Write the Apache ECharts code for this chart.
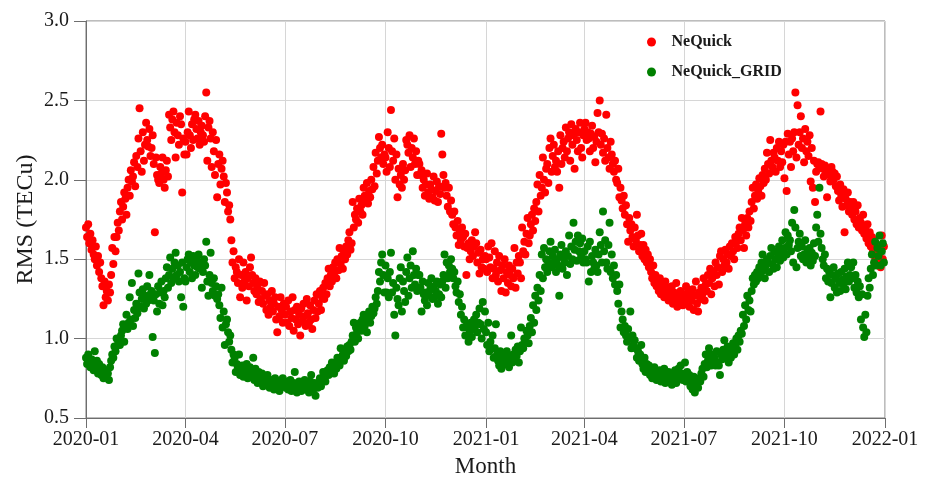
<!DOCTYPE html>
<html>
<head>
<meta charset="utf-8">
<title>RMS (TECu)</title>
<script src="https://cdn.jsdelivr.net/npm/echarts@6/dist/echarts.min.js"></script>
<style>
  html, body { margin: 0; padding: 0; background: #ffffff; }
  #chart { width: 936px; height: 478px; }
</style>
</head>
<body>
<div id="chart"></div>
<script>
// Daily RMS values (TECu); one inner list per month, day 1 onwards.
const seriesNames = ['NeQuick', 'NeQuick_GRID'];
const tickMonths = ['2020-01', '2020-04', '2020-07', '2020-10', '2021-01', '2021-04', '2021-07', '2021-10', '2022-01'];
const yMin = 0.5, yMax = 3.0, yStep = 0.5;

const neQuick2020 = [
  [1.70,1.64,1.72,1.60,1.66,1.56,1.62,1.53,1.50,1.58,1.46,1.52,1.42,1.48,1.38,1.33,1.21,1.36,1.26,1.30,1.24,1.34,1.29,1.40,1.57,1.47,1.64,1.55,1.64,1.73,1.68],
  [1.80,1.86,1.75,1.83,1.92,1.88,1.78,1.95,2.00,1.90,2.06,1.99,2.02,2.11,1.96,2.15,2.08,2.26,2.45,2.18,2.05,2.30,2.12,2.22,2.36,2.25,2.21,2.32,2.15],
  [2.20,2.28,2.10,1.67,2.14,2.03,2.00,1.98,2.08,2.04,2.14,2.00,1.95,2.06,2.12,2.02,2.41,2.33,2.25,2.38,2.43,2.30,2.14,2.36,2.28,2.22,2.40,2.35,1.92,2.26,2.16],
  [2.24,2.16,2.30,2.43,2.28,2.20,2.35,2.25,2.38,2.41,2.32,2.26,2.37,2.22,2.30,2.34,2.28,2.24,2.40,2.55,2.12,2.33,2.37,2.26,2.08,2.30,2.18,2.03,2.25,1.89],
  [2.10,2.16,1.97,2.07,2.12,2.02,1.86,1.98,1.92,1.80,1.84,1.75,1.62,1.48,1.55,1.38,1.45,1.42,1.35,1.50,1.26,1.40,1.32,1.48,1.36,1.42,1.24,1.38,1.33,1.45,1.51],
  [1.40,1.35,1.30,1.38,1.28,1.32,1.23,1.36,1.25,1.30,1.22,1.35,1.27,1.18,1.28,1.15,1.24,1.20,1.30,1.17,1.22,1.26,1.12,1.04,1.20,1.14,1.26,1.18,1.10,1.22],
  [1.15,1.20,1.10,1.24,1.08,1.17,1.13,1.26,1.05,1.18,1.12,1.20,1.09,1.15,1.02,1.19,1.11,1.22,1.14,1.08,1.25,1.16,1.10,1.21,1.12,1.06,1.18,1.24,1.13,1.28,1.17],
  [1.22,1.30,1.18,1.26,1.32,1.25,1.35,1.28,1.38,1.44,1.33,1.40,1.36,1.45,1.41,1.48,1.38,1.50,1.43,1.57,1.47,1.52,1.44,1.55,1.50,1.58,1.53,1.62,1.67,1.56,1.60],
  [1.86,1.70,1.78,1.75,1.82,1.73,1.88,1.80,1.84,1.78,1.95,1.90,1.86,1.98,1.85,1.93,1.89,2.00,1.94,2.08,1.96,2.17,2.04,2.12,2.27,2.20,2.14,2.22,2.10,2.16],
  [2.14,2.05,2.30,2.20,2.08,2.44,2.18,2.12,2.26,2.00,2.16,1.89,2.07,1.97,2.03,1.95,2.10,2.00,2.06,2.25,2.22,2.17,2.28,2.08,2.20,2.14,2.26,2.10,2.18,2.03,2.12],
  [2.10,2.03,2.06,1.95,2.00,1.90,1.97,2.04,1.92,1.88,1.97,1.94,1.89,2.02,1.87,1.93,1.99,1.86,1.96,1.91,2.29,2.16,2.03,1.95,1.98,1.90,1.83,1.95,1.80,1.87],
  [1.78,1.72,1.80,1.70,1.65,1.74,1.59,1.68,1.62,1.70,1.64,1.58,1.66,1.40,1.57,1.60,1.50,1.55,1.62,1.52,1.58,1.67,1.60,1.48,1.54,1.41,1.56,1.45,1.50,1.44,1.52]
];

const neQuick2021 = [
  [1.50,1.42,1.58,1.51,1.45,1.60,1.38,1.44,1.55,1.40,1.48,1.36,1.52,1.43,1.30,1.46,1.38,1.50,1.29,1.42,1.35,1.46,1.40,1.33,1.44,1.38,1.57,1.32,1.48,1.41,1.52],
  [1.48,1.38,1.70,1.55,1.61,1.53,1.66,1.76,1.60,1.65,1.72,1.78,1.68,1.82,1.74,1.86,1.97,1.80,2.03,1.90,1.95,2.14,2.00,1.92,2.07,2.10,1.98,2.20],
  [2.26,2.05,2.15,2.22,2.08,2.12,2.05,2.18,1.95,2.28,2.10,2.20,2.24,2.14,2.33,2.18,2.26,2.30,2.12,2.35,2.22,2.28,2.07,2.32,2.25,2.18,2.30,2.36,2.20,2.14,2.28],
  [2.32,2.36,2.25,2.30,2.26,2.18,2.29,2.34,2.20,2.27,2.11,2.24,2.42,2.30,2.50,2.22,2.29,2.17,2.26,2.12,2.41,2.20,2.14,2.07,2.24,2.16,2.10,2.05,2.12,2.00],
  [1.98,2.07,1.89,1.95,1.87,1.82,1.90,1.78,1.84,1.72,1.61,1.76,1.68,1.72,1.64,1.58,1.70,1.62,1.78,1.65,1.55,1.59,1.66,1.52,1.59,1.50,1.56,1.48,1.53,1.45,1.50],
  [1.42,1.38,1.46,1.35,1.40,1.33,1.36,1.30,1.38,1.28,1.34,1.31,1.26,1.36,1.29,1.32,1.24,1.30,1.27,1.33,1.22,1.29,1.25,1.35,1.20,1.27,1.23,1.30,1.26,1.21],
  [1.28,1.22,1.33,1.26,1.30,1.20,1.27,1.24,1.31,1.18,1.27,1.36,1.22,1.17,1.29,1.25,1.32,1.28,1.38,1.24,1.34,1.30,1.40,1.35,1.44,1.28,1.38,1.42,1.33,1.48,1.40],
  [1.45,1.34,1.52,1.55,1.42,1.50,1.46,1.56,1.48,1.53,1.44,1.58,1.52,1.60,1.55,1.50,1.64,1.61,1.57,1.66,1.70,1.62,1.76,1.68,1.57,1.72,1.65,1.76,1.70,1.80,1.74],
  [1.86,1.95,1.82,1.90,1.97,1.88,1.93,2.01,1.96,1.90,2.03,1.98,2.07,2.00,2.17,2.10,2.04,2.25,2.12,2.08,2.17,2.14,2.05,2.20,2.12,2.24,2.08,2.18,2.11,2.22],
  [2.01,2.24,1.93,2.29,2.16,2.24,2.08,2.26,2.18,2.30,2.55,2.14,2.47,2.22,2.30,2.40,2.20,2.26,2.11,2.32,2.18,2.24,2.15,2.28,1.99,2.20,1.95,2.12,1.86,2.05,2.10],
  [2.11,2.08,2.43,2.10,2.07,2.02,2.09,2.05,1.89,2.06,2.03,1.99,2.08,2.05,2.00,2.04,1.96,2.02,1.93,1.87,1.97,1.90,1.83,1.94,1.67,1.88,1.84,1.92,1.80,1.86],
  [1.82,1.78,1.86,1.75,1.80,1.72,1.84,1.70,1.76,1.73,1.68,1.78,1.66,1.70,1.63,1.72,1.60,1.67,1.58,1.64,1.55,1.62,1.51,1.59,1.48,1.56,1.53,1.45,1.65,1.50,1.58]
];

const grid2020 = [
  [0.88,0.84,0.90,0.86,0.82,0.87,0.85,0.80,0.92,0.83,0.86,0.78,0.84,0.80,0.77,0.82,0.75,0.79,0.76,0.80,0.78,0.74,0.82,0.86,0.90,0.88,0.95,0.92,1.00,0.96,0.98],
  [0.96,1.02,1.05,1.09,0.98,1.08,1.15,1.06,1.10,1.26,1.12,1.35,1.08,1.18,1.13,1.22,1.16,1.41,1.29,1.20,1.25,1.31,1.19,1.27,1.22,1.33,1.24,1.40,1.28],
  [1.30,1.01,1.24,0.91,1.28,1.17,1.33,1.22,1.29,1.36,1.21,1.30,1.26,1.38,1.45,1.32,1.40,1.51,1.35,1.44,1.38,1.48,1.54,1.40,1.46,1.36,1.42,1.26,1.48,1.20,1.38],
  [1.36,1.45,1.50,1.53,1.42,1.48,1.38,1.52,1.46,1.40,1.50,1.45,1.53,1.44,1.48,1.32,1.42,1.50,1.46,1.61,1.36,1.27,1.40,1.54,1.35,1.30,1.38,1.27,1.33,1.25],
  [1.28,1.21,1.13,1.32,1.07,1.17,0.96,1.09,1.12,1.04,0.98,1.02,0.93,0.85,0.90,0.88,0.79,0.84,0.82,0.90,0.77,0.80,0.83,0.76,0.81,0.78,0.84,0.75,0.79,0.82,0.77],
  [0.80,0.88,0.74,0.81,0.77,0.72,0.79,0.75,0.73,0.78,0.70,0.76,0.74,0.71,0.77,0.72,0.69,0.74,0.70,0.73,0.68,0.75,0.71,0.69,0.72,0.67,0.73,0.70,0.75,0.72],
  [0.70,0.69,0.73,0.68,0.71,0.74,0.67,0.70,0.72,0.79,0.68,0.66,0.71,0.73,0.69,0.67,0.72,0.70,0.74,0.68,0.69,0.71,0.66,0.73,0.77,0.70,0.68,0.72,0.64,0.71,0.69],
  [0.72,0.75,0.70,0.74,0.79,0.76,0.73,0.78,0.80,0.77,0.82,0.79,0.85,0.81,0.78,0.84,0.81,0.88,0.85,0.83,0.94,0.87,0.90,0.86,0.92,0.89,0.95,0.92,0.96,0.93,0.98],
  [1.02,1.10,0.98,1.07,1.04,1.00,1.08,1.10,1.05,1.12,1.15,1.08,1.13,1.04,1.11,1.17,1.10,1.14,1.20,1.16,1.19,1.26,1.22,1.30,1.42,1.36,1.48,1.53,1.40,1.29],
  [1.46,1.29,1.38,1.26,1.42,1.54,1.29,1.35,1.15,1.02,1.32,1.25,1.21,1.38,1.45,1.17,1.36,1.30,1.23,1.42,1.51,1.27,1.38,1.46,1.32,1.55,1.40,1.34,1.44,1.30,1.40],
  [1.40,1.32,1.17,1.36,1.28,1.24,1.29,1.21,1.35,1.27,1.31,1.38,1.25,1.33,1.26,1.30,1.36,1.22,1.28,1.34,1.26,1.36,1.40,1.53,1.32,1.48,1.38,1.46,1.42,1.50],
  [1.44,1.38,1.42,1.33,1.29,1.36,1.23,1.28,1.15,1.20,1.07,1.12,1.02,1.08,1.07,0.98,1.04,1.10,1.01,1.06,1.12,1.08,1.15,1.04,1.10,1.19,1.09,1.00,1.23,1.06,1.17]
];

const grid2021 = [
  [1.04,0.96,1.10,0.92,0.98,0.94,1.02,0.88,0.94,1.09,0.90,0.86,0.83,0.92,0.81,0.88,0.85,0.90,0.84,0.92,0.87,0.82,0.88,1.02,0.85,0.90,0.86,0.93,0.89,0.95,0.85],
  [0.92,1.07,0.96,0.94,1.00,0.98,1.05,1.02,0.97,1.08,1.13,1.04,1.21,1.10,1.27,1.18,1.32,1.24,1.40,1.30,1.53,1.38,1.57,1.45,1.50,1.42,1.48,1.55],
  [1.61,1.45,1.52,1.48,1.56,1.42,1.50,1.46,1.27,1.53,1.59,1.44,1.51,1.48,1.55,1.40,1.52,1.65,1.47,1.58,1.50,1.73,1.56,1.61,1.49,1.65,1.55,1.60,1.52,1.63,1.48],
  [1.55,1.50,1.48,1.58,1.36,1.61,1.42,1.52,1.48,1.44,1.56,1.46,1.42,1.53,1.67,1.59,1.48,1.80,1.55,1.62,1.48,1.44,1.59,1.73,1.42,1.53,1.38,1.46,1.34,1.40],
  [1.30,1.22,1.34,1.07,1.17,1.12,1.04,1.08,1.02,0.98,1.06,1.00,1.17,0.94,1.02,0.96,0.99,0.94,0.88,0.92,0.86,0.90,0.96,0.84,0.81,0.88,0.79,0.84,0.80,0.83,0.77],
  [0.80,0.75,0.78,0.82,0.77,0.74,0.79,0.76,0.80,0.73,0.78,0.75,0.81,0.72,0.77,0.74,0.79,0.73,0.76,0.71,0.78,0.74,0.80,0.72,0.76,0.81,0.75,0.83,0.78,0.74],
  [0.77,0.85,0.73,0.79,0.74,0.77,0.70,0.73,0.68,0.76,0.66,0.72,0.71,0.69,0.75,0.73,0.78,0.81,0.76,0.84,0.90,0.82,0.86,0.94,0.88,0.83,0.90,0.86,0.88,0.83,0.92],
  [0.85,0.83,0.77,0.90,0.87,0.93,0.99,0.88,0.92,0.95,0.85,0.91,0.88,0.94,0.97,0.90,0.96,1.00,0.93,1.02,0.98,1.05,1.03,1.15,1.08,1.21,1.12,1.27,1.18,1.24,1.17],
  [1.30,1.38,1.34,1.40,1.36,1.42,1.38,1.45,1.40,1.48,1.53,1.43,1.38,1.46,1.50,1.48,1.42,1.52,1.57,1.47,1.44,1.55,1.50,1.45,1.53,1.58,1.49,1.54,1.62,1.51],
  [1.57,1.67,1.53,1.65,1.59,1.62,1.55,1.73,1.48,1.81,1.70,1.45,1.57,1.61,1.66,1.52,1.58,1.50,1.53,1.62,1.48,1.56,1.51,1.57,1.46,1.54,1.49,1.60,1.52,1.70,1.78],
  [1.61,1.95,1.66,1.57,1.50,1.46,1.53,1.38,1.44,1.36,1.42,1.26,1.35,1.40,1.45,1.32,1.38,1.29,1.41,1.35,1.30,1.42,1.37,1.34,1.44,1.31,1.39,1.48,1.36,1.40],
  [1.45,1.38,1.48,1.32,1.40,1.29,1.36,1.26,1.33,1.12,1.28,1.07,1.01,1.15,1.04,1.27,1.38,1.32,1.44,1.53,1.40,1.48,1.61,1.46,1.57,1.52,1.65,1.46,1.55,1.60,1.48]
];

// Turn month lists into [timestamp, value] pairs.
function toPoints(year, months) {
  const out = [];
  months.forEach(function (days, m) {
    days.forEach(function (v, d) {
      out.push([new Date(year, m, d + 1).getTime(), v]);
    });
  });
  return out;
}

function monthStamp(label) {
  const parts = label.split('-');
  return new Date(+parts[0], +parts[1] - 1, 1).getTime();
}

function formatMonth(ts) {
  const d = new Date(ts);
  const mm = d.getMonth() + 1;
  return d.getFullYear() + '-' + (mm < 10 ? '0' + mm : mm);
}

const tickStamps = tickMonths.map(monthStamp);
const serif = 'Liberation Serif';
const textColor = '#1a1a1a';

const chart = echarts.init(document.getElementById('chart'), null, { renderer: 'canvas' });

chart.setOption({
  backgroundColor: '#ffffff',
  animation: false,
  grid: {
    left: 86, right: 51, top: 21, bottom: 60,
    outerBoundsMode: 'none',
    show: true, borderColor: '#7a7a7a', borderWidth: 1, backgroundColor: 'transparent'
  },
  legend: {
    orient: 'vertical',
    left: 642, top: 29,
    itemWidth: 30, itemHeight: 9, itemGap: 14,
    icon: 'circle',
    textStyle: { fontFamily: serif, fontWeight: 'bold', fontSize: 16, color: textColor, lineHeight: 16 },
    data: seriesNames
  },
  xAxis: {
    type: 'value',
    min: tickStamps[0],
    max: tickStamps[tickStamps.length - 1],
    name: 'Month',
    nameLocation: 'middle',
    nameGap: 37,
    nameMoveOverlap: false,
    nameTextStyle: { fontFamily: serif, fontSize: 23, color: textColor },
    axisLine: { show: true, lineStyle: { color: '#6e6e6e', width: 1 } },
    axisTick: { show: true, length: 10, customValues: tickStamps, lineStyle: { color: '#6e6e6e' } },
    axisLabel: {
      customValues: tickStamps,
      formatter: function (v) { return formatMonth(v); },
      fontFamily: serif, fontSize: 20, color: textColor, margin: 12,
      showMinLabel: true, showMaxLabel: true, hideOverlap: false
    },
    splitLine: { show: true, lineStyle: { color: '#d6d6d6', width: 1 } }
  },
  yAxis: {
    type: 'value',
    min: yMin, max: yMax, interval: yStep,
    name: 'RMS (TECu)',
    nameLocation: 'middle',
    nameGap: 48,
    nameMoveOverlap: false,
    nameTextStyle: { fontFamily: serif, fontSize: 24, color: textColor },
    axisLine: { show: true, lineStyle: { color: '#6e6e6e', width: 1 } },
    axisTick: { show: true, length: 12, lineStyle: { color: '#6e6e6e' } },
    axisLabel: {
      formatter: function (v) { return v.toFixed(1); },
      fontFamily: serif, fontSize: 20, color: textColor, margin: 17
    },
    splitLine: { show: true, lineStyle: { color: '#d6d6d6', width: 1 } }
  },
  series: [
    {
      name: seriesNames[0], type: 'scatter', symbol: 'circle', symbolSize: 8,
      itemStyle: { color: '#ff0000', opacity: 1 },
      data: toPoints(2020, neQuick2020).concat(toPoints(2021, neQuick2021))
    },
    {
      name: seriesNames[1], type: 'scatter', symbol: 'circle', symbolSize: 8,
      itemStyle: { color: '#008000', opacity: 1 },
      data: toPoints(2020, grid2020).concat(toPoints(2021, grid2021))
    }
  ]
});
</script>
</body>
</html>
